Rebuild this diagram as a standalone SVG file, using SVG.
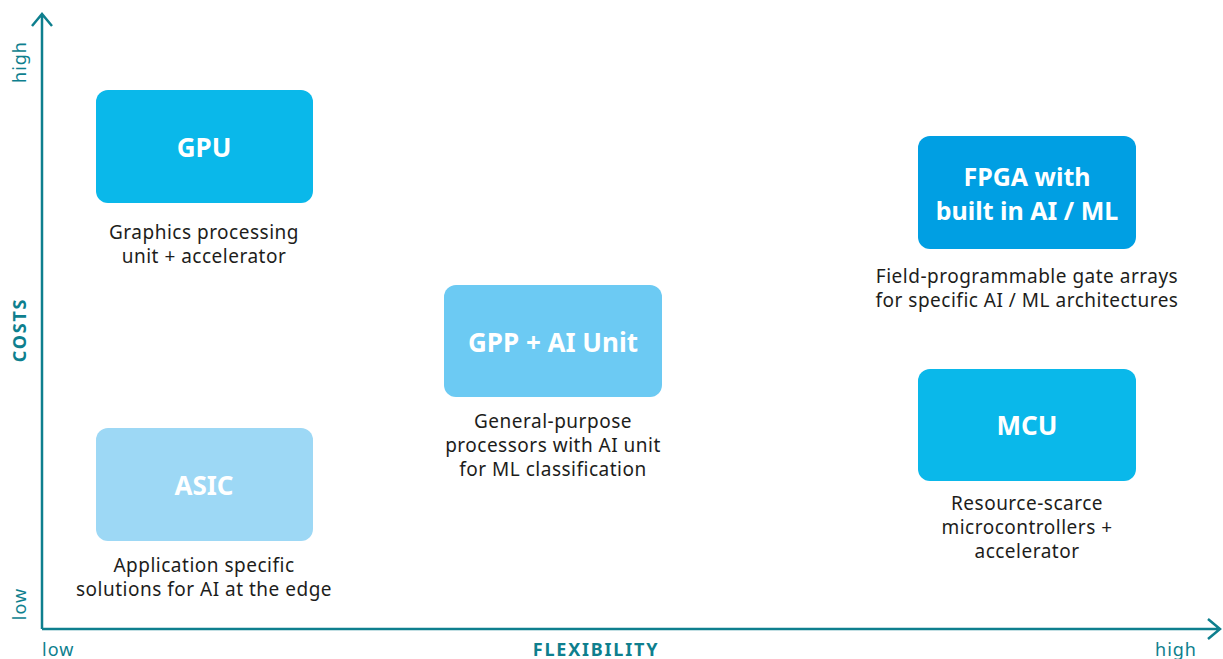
<svg xmlns="http://www.w3.org/2000/svg" width="1223" height="659" viewBox="0 0 1223 659">
<style>
.box{stroke:none}
.t{font-family:"Noto Sans","Open Sans",sans-serif;font-weight:bold;fill:#ffffff;font-size:26px;text-anchor:middle}
.t2{font-size:25px}
.c{font-family:"Noto Sans","Open Sans",sans-serif;fill:#1d1d1b;font-size:19px;letter-spacing:0.5px;text-anchor:middle}
.ax{font-family:"Noto Sans","Open Sans",sans-serif;fill:#0e7f8e;font-size:18px;letter-spacing:1px}
.axb{font-family:"Noto Sans","Open Sans",sans-serif;fill:#0e7f8e;font-size:18px;font-weight:bold;letter-spacing:1.8px}
.axis{stroke:#0e7f8e;stroke-width:2.5;fill:none}
</style>
<rect width="1223" height="659" fill="#ffffff"/>
<g id="axes">
<path class="axis" d="M42,629 V14 M32,26 L42,14 L52,26"/>
<path class="axis" d="M42,629 H1220 M1208,619 L1220,629 L1208,639"/>
<text class="ax" transform="translate(26,62) rotate(-90)" text-anchor="middle">high</text>
<text class="ax" transform="translate(26,604) rotate(-90)" text-anchor="middle">low</text>
<text class="axb" transform="translate(26,330) rotate(-90)" text-anchor="middle">COSTS</text>
<text class="ax" x="42" y="656">low</text>
<text class="ax" x="1197" y="656" text-anchor="end">high</text>
<text class="axb" x="596" y="656" text-anchor="middle">FLEXIBILITY</text>
</g>
<g id="gpu">
<rect class="box" x="96" y="90" width="217" height="113" rx="12" fill="#0ab8ea"/>
<text class="t" x="204" y="157">GPU</text>
<text class="c" x="204" y="239">Graphics processing</text>
<text class="c" x="204" y="263">unit + accelerator</text>
</g>
<g id="asic">
<rect class="box" x="96" y="428" width="217" height="113" rx="12" fill="#9dd8f5"/>
<text class="t" x="204" y="495">ASIC</text>
<text class="c" x="204" y="572">Application specific</text>
<text class="c" x="204" y="596">solutions for AI at the edge</text>
</g>
<g id="gpp">
<rect class="box" x="444" y="285" width="218" height="112" rx="12" fill="#6ccaf3"/>
<text class="t" x="553" y="352">GPP + AI Unit</text>
<text class="c" x="553" y="428">General-purpose</text>
<text class="c" x="553" y="452">processors with AI unit</text>
<text class="c" x="553" y="476">for ML classification</text>
</g>
<g id="fpga">
<rect class="box" x="918" y="136" width="218" height="113" rx="12" fill="#009fe3"/>
<text class="t t2" x="1027" y="186">FPGA with</text>
<text class="t t2" x="1027" y="220">built in AI / ML</text>
<text class="c" x="1027" y="283">Field-programmable gate arrays</text>
<text class="c" x="1027" y="307">for specific AI / ML architectures</text>
</g>
<g id="mcu">
<rect class="box" x="918" y="369" width="218" height="112" rx="12" fill="#0ab8ea"/>
<text class="t" x="1027" y="435">MCU</text>
<text class="c" x="1027" y="510">Resource-scarce</text>
<text class="c" x="1027" y="534">microcontrollers +</text>
<text class="c" x="1027" y="558">accelerator</text>
</g>
<g id="connectors"></g>
</svg>
